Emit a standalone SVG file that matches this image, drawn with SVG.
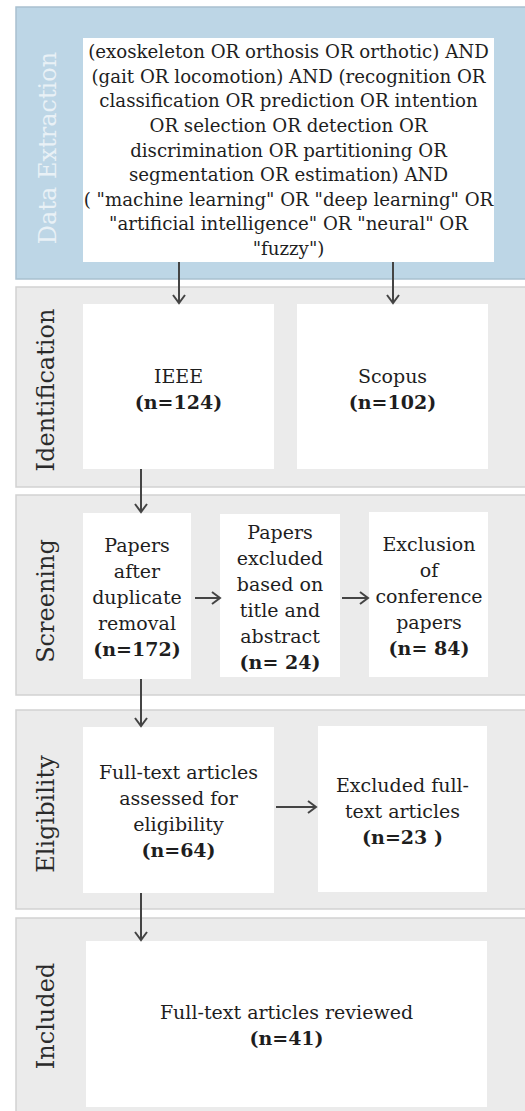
<svg xmlns="http://www.w3.org/2000/svg" width="525" height="1111" viewBox="0 0 525 1111">
<style>
.panel{fill:#ebebeb;stroke:#d2d2d2;stroke-width:1.5}
.blue{fill:#bdd6e6;stroke:#a9c0cf;stroke-width:1.5}
.box{fill:#ffffff}
.t{font-family:"DejaVu Serif","Liberation Serif",serif;font-size:19px;fill:#1e1e1e;text-anchor:middle}
.q{font-size:18.2px}
.b{font-weight:bold}
.lab{font-family:"DejaVu Serif","Liberation Serif",serif;font-size:24px;fill:#2a2a2a;text-anchor:middle}
.lab2{fill:#e9f1f6}
.c{stroke:#444;stroke-width:2;fill:none;marker-end:url(#ah)}
</style>
<defs>
<marker id="ah" viewBox="-1 -7 11 14" markerWidth="11" markerHeight="14" refX="8" refY="0" orient="auto" markerUnits="userSpaceOnUse">
<path d="M0,-6 L8,0 L0,6" fill="none" stroke="#444" stroke-width="2"/>
</marker>
</defs>
<rect width="525" height="1111" fill="#ffffff"/>
<g id="lanes">
<rect class="blue" x="16" y="7" width="515" height="272"/>
<rect class="panel" x="16" y="287" width="515" height="200"/>
<rect class="panel" x="16" y="495" width="515" height="200"/>
<rect class="panel" x="16" y="710" width="515" height="199"/>
<rect class="panel" x="16" y="918" width="515" height="200"/>
<text class="lab lab2" transform="translate(56,148) rotate(-90)">Data Extraction</text>
<text class="lab" transform="translate(54,390) rotate(-90)">Identification</text>
<text class="lab" transform="translate(54,601) rotate(-90)">Screening</text>
<text class="lab" transform="translate(54,814) rotate(-90)">Eligibility</text>
<text class="lab" transform="translate(54,1016) rotate(-90)">Included</text>
</g>
<g id="query">
<rect class="box" x="83" y="38" width="411" height="224"/>
<text class="t q" x="288.5" y="58">(exoskeleton OR orthosis OR orthotic) AND</text>
<text class="t q" x="288.5" y="82.6">(gait OR locomotion) AND (recognition OR</text>
<text class="t q" x="288.5" y="107.3">classification OR prediction OR intention</text>
<text class="t q" x="288.5" y="131.9">OR selection OR detection OR</text>
<text class="t q" x="288.5" y="156.5">discrimination OR partitioning OR</text>
<text class="t q" x="288.5" y="181.1">segmentation OR estimation) AND</text>
<text class="t q" x="288.5" y="205.8">( "machine learning" OR "deep learning" OR</text>
<text class="t q" x="288.5" y="230.4">"artificial intelligence" OR "neural" OR</text>
<text class="t q" x="288.5" y="255">"fuzzy")</text>
</g>
<g id="ieee">
<rect class="box" x="83" y="304" width="191" height="165"/>
<text class="t" x="178.5" y="383">IEEE</text>
<text class="t b" x="178.5" y="409">(n=124)</text>
</g>
<g id="scopus">
<rect class="box" x="297" y="304" width="191" height="165"/>
<text class="t" x="392.5" y="383">Scopus</text>
<text class="t b" x="392.5" y="409">(n=102)</text>
</g>
<g id="dedup">
<rect class="box" x="83" y="513" width="108" height="166"/>
<text class="t" x="137" y="552">Papers</text>
<text class="t" x="137" y="578">after</text>
<text class="t" x="137" y="604">duplicate</text>
<text class="t" x="137" y="630">removal</text>
<text class="t b" x="137" y="656">(n=172)</text>
</g>
<g id="excluded-title">
<rect class="box" x="220" y="514" width="120" height="163"/>
<text class="t" x="280" y="539">Papers</text>
<text class="t" x="280" y="565">excluded</text>
<text class="t" x="280" y="591">based on</text>
<text class="t" x="280" y="617">title and</text>
<text class="t" x="280" y="643">abstract</text>
<text class="t b" x="280" y="669">(n= 24)</text>
</g>
<g id="conference">
<rect class="box" x="369" y="512" width="119" height="165"/>
<text class="t" x="429" y="551">Exclusion</text>
<text class="t" x="429" y="577">of</text>
<text class="t" x="429" y="603">conference</text>
<text class="t" x="429" y="629">papers</text>
<text class="t b" x="429" y="655">(n= 84)</text>
</g>
<g id="assessed">
<rect class="box" x="83" y="727" width="191" height="166"/>
<text class="t" x="178.5" y="779">Full-text articles</text>
<text class="t" x="178.5" y="805">assessed for</text>
<text class="t" x="178.5" y="831">eligibility</text>
<text class="t b" x="178.5" y="857">(n=64)</text>
</g>
<g id="excluded-full">
<rect class="box" x="318" y="726" width="169" height="166"/>
<text class="t" x="402.5" y="792">Excluded full-</text>
<text class="t" x="402.5" y="818">text articles</text>
<text class="t b" x="402.5" y="844">(n=23 )</text>
</g>
<g id="reviewed">
<rect class="box" x="86" y="941" width="401" height="166"/>
<text class="t" x="286.5" y="1019">Full-text articles reviewed</text>
<text class="t b" x="286.5" y="1045">(n=41)</text>
</g>
<g id="connectors">
<line class="c" x1="179" y1="262" x2="179" y2="303"/>
<line class="c" x1="393" y1="262" x2="393" y2="303"/>
<line class="c" x1="141" y1="469" x2="141" y2="512"/>
<line class="c" x1="195" y1="598" x2="220" y2="598"/>
<line class="c" x1="342" y1="598" x2="368" y2="598"/>
<line class="c" x1="141" y1="679" x2="141" y2="726"/>
<line class="c" x1="276" y1="807" x2="316" y2="807"/>
<line class="c" x1="141" y1="893" x2="141" y2="940"/>
</g>
</svg>
